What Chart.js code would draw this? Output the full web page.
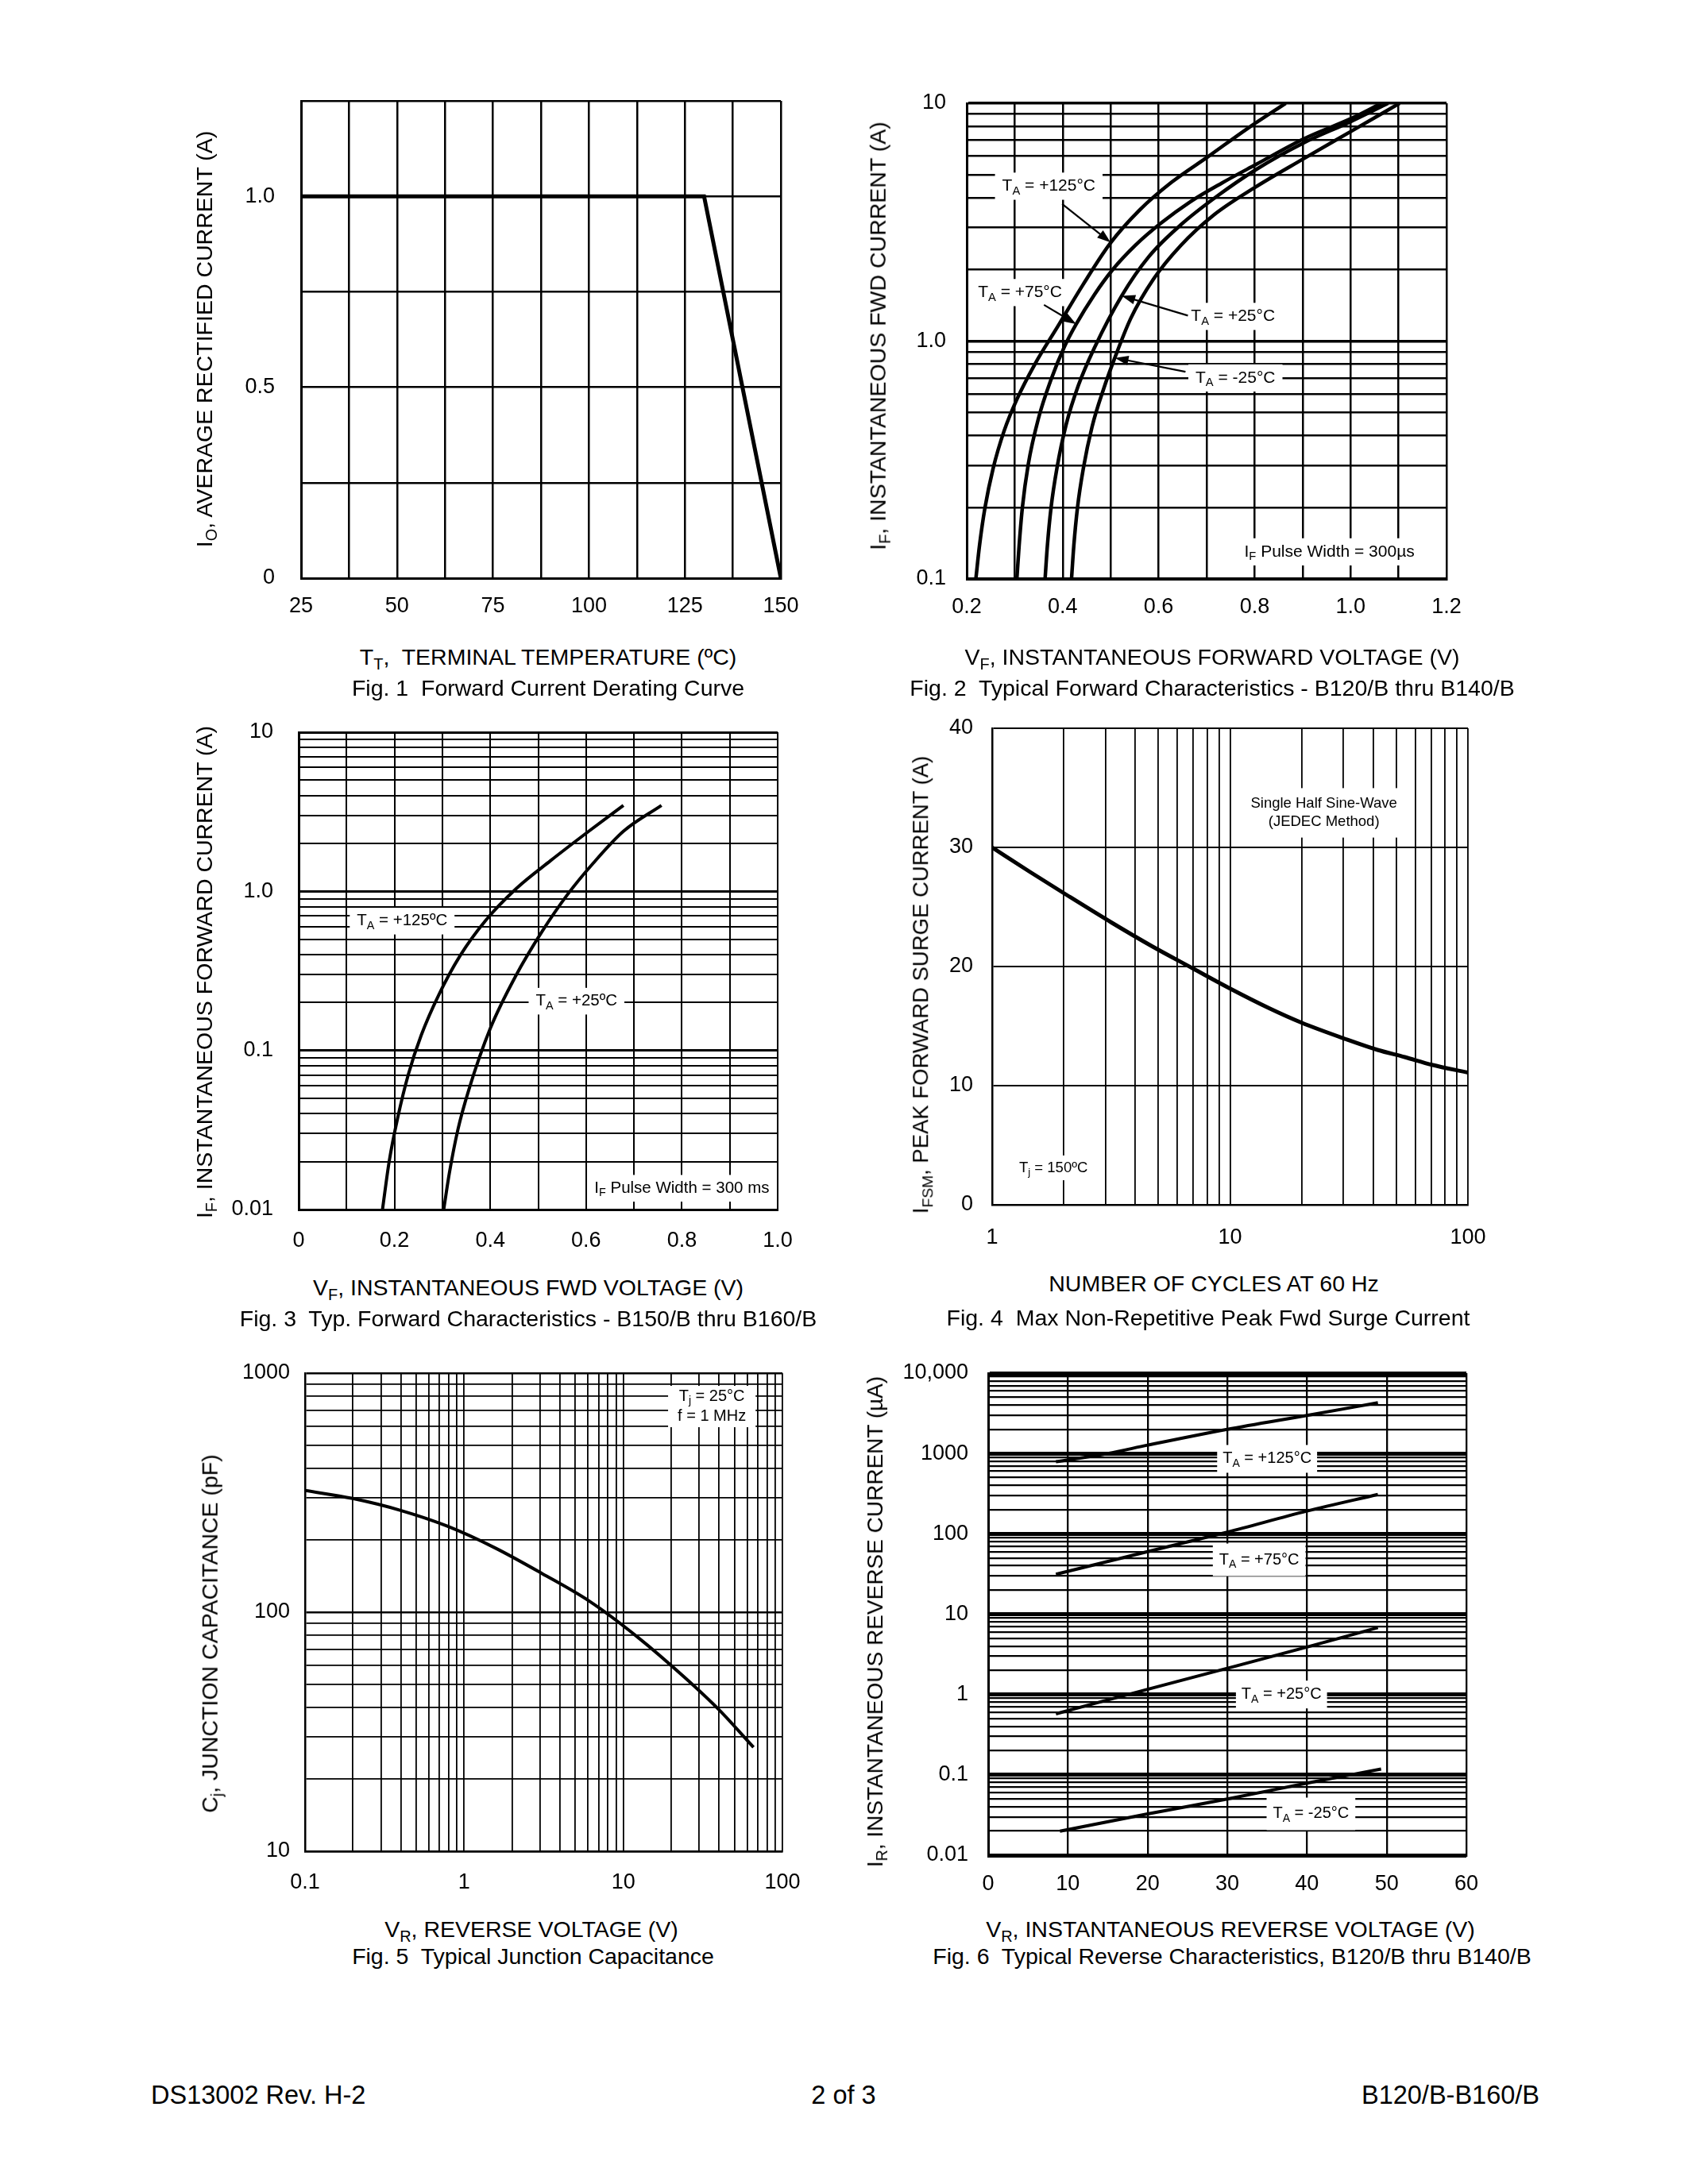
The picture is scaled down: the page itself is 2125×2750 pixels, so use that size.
<!DOCTYPE html>
<html>
<head>
<meta charset="utf-8">
<script src="https://cdn.jsdelivr.net/npm/chart.js@4.4.1/dist/chart.umd.min.js"></script>
<style>
html, body { margin: 0; padding: 0; background: #fff; }
#page { position: relative; width: 2125px; height: 2750px; overflow: hidden; font-family: "Liberation Sans", Arial, sans-serif; color: #000; }
canvas { position: absolute; }
.t { position: absolute; white-space: pre; font-size: 28.5px; line-height: 1; transform: translate(-50%, -50%); z-index: 2; }
.v { transform: translate(-50%, -50%) rotate(-90deg); }
sub { font-size: 70%; vertical-align: -0.32em; line-height: 0; }
.f { position: absolute; font-size: 32.5px; line-height: 1; white-space: nowrap; transform: translateY(-50%); }
</style>
</head>
<body>
<div id="page">
  <canvas id="c1"></canvas>
  <canvas id="c2"></canvas>
  <canvas id="c3"></canvas>
  <canvas id="c4"></canvas>
  <canvas id="c5"></canvas>
  <canvas id="c6"></canvas>

  <div class="t" style="left:690px;top:827px">T<sub>T</sub>,  TERMINAL TEMPERATURE (ºC)</div>
  <div class="t" style="left:690px;top:866px">Fig. 1  Forward Current Derating Curve</div>
  <div class="t v" style="left:257px;top:427px">I<sub>O</sub>, AVERAGE RECTIFIED CURRENT (A)</div>

  <div class="t" style="left:1526px;top:827px">V<sub>F</sub>, INSTANTANEOUS FORWARD VOLTAGE (V)</div>
  <div class="t" style="left:1526px;top:866px">Fig. 2  Typical Forward Characteristics - B120/B thru B140/B</div>
  <div class="t v" style="left:1105px;top:423px">I<sub>F</sub>, INSTANTANEOUS FWD CURRENT (A)</div>

  <div class="t" style="left:665px;top:1621px">V<sub>F</sub>, INSTANTANEOUS FWD VOLTAGE (V)</div>
  <div class="t" style="left:665px;top:1660px">Fig. 3  Typ. Forward Characteristics - B150/B thru B160/B</div>
  <div class="t v" style="left:257px;top:1224px">I<sub>F</sub>, INSTANTANEOUS FORWARD CURRENT (A)</div>

  <div class="t" style="left:1528px;top:1616px">NUMBER OF CYCLES AT 60 Hz</div>
  <div class="t" style="left:1521px;top:1659px">Fig. 4  Max Non-Repetitive Peak Fwd Surge Current</div>
  <div class="t v" style="left:1159px;top:1240px;font-size:27.5px">I<sub>FSM</sub>, PEAK FORWARD SURGE CURRENT (A)</div>

  <div class="t" style="left:669px;top:2429px">V<sub>R</sub>, REVERSE VOLTAGE (V)</div>
  <div class="t" style="left:671px;top:2463px">Fig. 5  Typical Junction Capacitance</div>
  <div class="t v" style="left:264px;top:2057px">C<sub>j</sub>, JUNCTION CAPACITANCE (pF)</div>

  <div class="t" style="left:1549px;top:2429px">V<sub>R</sub>, INSTANTANEOUS REVERSE VOLTAGE (V)</div>
  <div class="t" style="left:1551px;top:2463px">Fig. 6  Typical Reverse Characteristics, B120/B thru B140/B</div>
  <div class="t v" style="left:1102px;top:2042px;font-size:28px">I<sub>R</sub>, INSTANTANEOUS REVERSE CURRENT (µA)</div>

  <div class="f" style="left:190px;top:2638px">DS13002 Rev. H-2</div>
  <div class="f" style="left:1062px;top:2638px;transform:translate(-50%,-50%)">2 of 3</div>
  <div class="f" style="right:187px;top:2638px">B120/B-B160/B</div>
</div>

<script>
const FAM = "'Liberation Sans', Arial, sans-serif";

// log grid lines 1..9 per decade
function logGrid(e0, e1) {
  const out = [];
  for (let e = e0; e < e1; e++) {
    for (let m = 1; m < 10; m++) out.push(+(m * Math.pow(10, e)).toPrecision(3));
  }
  out.push(Math.pow(10, e1));
  return out;
}

// ---- Fig. 1 Forward Current Derating Curve
const fig1Temp = [25, 130, 150];
const fig1Current = [1.0, 1.0, 0];
const fig1XGrid = [25, 37.5, 50, 62.5, 75, 87.5, 100, 112.5, 125, 137.5, 150];
const fig1XTicks = [25, 50, 75, 100, 125, 150];
const fig1XText = ['25', '50', '75', '100', '125', '150'];
const fig1YGrid = [0, 0.25, 0.5, 0.75, 1.0, 1.25];
const fig1YTicks = [0, 0.5, 1.0];
const fig1YText = ['0', '0.5', '1.0'];

// ---- Fig. 2 Typical Forward Characteristics B120/B..B140/B
const fig2V125 = [0.219, 0.2266, 0.238, 0.2551, 0.2779, 0.3045, 0.3425, 0.3899, 0.4422, 0.4991, 0.5609, 0.6273, 0.7033, 0.784, 0.8648];
const fig2I125 = [0.1, 0.138, 0.199, 0.292, 0.419, 0.569, 0.803, 1.154, 1.725, 2.576, 3.565, 4.66, 5.97, 7.8, 10];
const fig2V75 = [0.3045, 0.3092, 0.3159, 0.3282, 0.3491, 0.3757, 0.4042, 0.4279, 0.4659, 0.5039, 0.5514, 0.6036, 0.6653, 0.7318, 0.803, 0.9028, 1.0025, 1.0642];
const fig2I75 = [0.1, 0.138, 0.199, 0.303, 0.47, 0.689, 0.953, 1.176, 1.566, 1.994, 2.527, 3.118, 3.846, 4.62, 5.53, 7.09, 8.65, 10];
const fig2V25 = [0.3633, 0.3681, 0.3757, 0.388, 0.407, 0.4327, 0.4659, 0.5229, 0.5799, 0.6463, 0.7223, 0.803, 0.9028, 0.9977, 1.0784];
const fig2I25 = [0.1, 0.138, 0.199, 0.292, 0.444, 0.651, 0.935, 1.549, 2.27, 3.083, 4.074, 5.263, 6.823, 8.325, 10];
const fig2Vm25 = [0.4184, 0.4232, 0.4308, 0.4431, 0.4612, 0.4849, 0.5086, 0.5419, 0.5894, 0.6463, 0.7128, 0.7983, 0.9028, 1.0025, 1.1022];
const fig2Im25 = [0.1, 0.138, 0.199, 0.292, 0.436, 0.626, 0.85, 1.246, 1.825, 2.527, 3.365, 4.397, 5.856, 7.65, 10];
const fig2XGrid = [0.2, 0.3, 0.4, 0.5, 0.6, 0.7, 0.8, 0.9, 1.0, 1.1, 1.2];
const fig2XTicks = [0.2, 0.4, 0.6, 0.8, 1.0, 1.2];
const fig2XText = ['0.2', '0.4', '0.6', '0.8', '1.0', '1.2'];
const fig2YTicks = [0.1, 1, 10];
const fig2YText = ['0.1', '1.0', '10'];

// ---- Fig. 3 Typ. Forward Characteristics B150/B..B160/B
const fig3V125 = [0.175, 0.189, 0.2067, 0.229, 0.256, 0.292, 0.337, 0.391, 0.454, 0.526, 0.606, 0.678];
const fig3I125 = [0.01, 0.0201, 0.0377, 0.0708, 0.125, 0.222, 0.394, 0.66, 1.04, 1.56, 2.39, 3.47];
const fig3V25 = [0.3028, 0.3145, 0.3324, 0.3549, 0.3998, 0.4537, 0.5076, 0.5615, 0.6155, 0.6783, 0.7574];
const fig3I25 = [0.01, 0.0169, 0.0318, 0.0562, 0.137, 0.296, 0.556, 0.957, 1.51, 2.39, 3.47];
const fig3XGrid = [0, 0.1, 0.2, 0.3, 0.4, 0.5, 0.6, 0.7, 0.8, 0.9, 1.0];
const fig3XTicks = [0, 0.2, 0.4, 0.6, 0.8, 1.0];
const fig3XText = ['0', '0.2', '0.4', '0.6', '0.8', '1.0'];
const fig3YTicks = [0.01, 0.1, 1, 10];
const fig3YText = ['0.01', '0.1', '1.0', '10'];

// ---- Fig. 4 Max Non-Repetitive Peak Fwd Surge Current
const fig4Cycles = [1, 1.44, 2.06, 3.17, 4.7, 6.96, 10, 14.6, 19.9, 30.7, 41.7, 54.2, 70.5, 100];
const fig4Surge = [30, 27.95, 26.0, 23.7, 21.7, 19.85, 18.15, 16.5, 15.3, 13.9, 13.0, 12.4, 11.75, 11.1];
const fig4YGrid = [0, 10, 20, 30, 40];
const fig4XTicks = [1, 10, 100];
const fig4XText = ['1', '10', '100'];
const fig4YTicks = [0, 10, 20, 30, 40];
const fig4YText = ['0', '10', '20', '30', '40'];

// ---- Fig. 5 Typical Junction Capacitance
const fig5Volts = [0.1, 0.199, 0.395, 0.784, 1.557, 3.094, 6.146, 12.21, 24.26, 39.96, 65.8];
const fig5Cap = [323, 299, 267, 229, 186, 145, 111, 79, 53.4, 39.05, 27.2];
const fig5XTicks = [0.1, 1, 10, 100];
const fig5XText = ['0.1', '1', '10', '100'];
const fig5YTicks = [10, 100, 1000];
const fig5YText = ['10', '100', '1000'];

// ---- Fig. 6 Typical Reverse Characteristics
const fig6V125 = [8.5, 15, 20, 30, 40, 48.9];
const fig6I125 = [790, 1000, 1270, 2000, 2980, 4280];
const fig6V75 = [8.5, 20, 30, 40, 48.9];
const fig6I75 = [31.4, 60, 105, 192, 309];
const fig6V25 = [8.5, 20, 30, 40, 48.9];
const fig6I25 = [0.575, 1.16, 2.12, 3.9, 6.8];
const fig6Vm25 = [9, 20, 30, 40, 49.3];
const fig6Im25 = [0.0199, 0.0327, 0.05, 0.079, 0.118];
const fig6XGrid = [0, 10, 20, 30, 40, 50, 60];
const fig6XTicks = [0, 10, 20, 30, 40, 50, 60];
const fig6XText = ['0', '10', '20', '30', '40', '50', '60'];
const fig6YTicks = [0.01, 0.1, 1, 10, 100, 1000, 10000];
const fig6YText = ['0.01', '0.1', '1', '10', '100', '1000', '10,000'];

// rich text: {..} is a subscript
function parts(str) {
  return str.split(/(\{[^}]*\})/).filter(p => p).map(p => p[0] === '{' ? [p.slice(1, -1), true] : [p, false]);
}
function richWidth(ctx, str, size) {
  let w = 0;
  parts(str).forEach(([s, sub]) => {
    ctx.font = (sub ? size * 0.7 : size) + 'px ' + FAM;
    w += ctx.measureText(s).width;
  });
  return w;
}
function drawRich(ctx, str, cx, cy, size) {
  let x = cx - richWidth(ctx, str, size) / 2;
  ctx.textAlign = 'left';
  ctx.textBaseline = 'middle';
  parts(str).forEach(([s, sub]) => {
    ctx.font = (sub ? size * 0.7 : size) + 'px ' + FAM;
    ctx.fillText(s, x, sub ? cy + size * 0.3 : cy);
    x += ctx.measureText(s).width;
  });
}

function notesPlugin(notes, size, arrows) {
  return {
    id: 'notes',
    beforeDatasetsDraw(chart) {
      const { ctx, scales: { x, y } } = chart;
      ctx.save();
      notes.forEach(n => {
        const cx = x.getPixelForValue(n.x), cy = y.getPixelForValue(n.y);
        const lh = size * 1.25;
        const w = Math.max(...n.lines.map(l => richWidth(ctx, l, size))) + 2 * (n.padX || 9);
        const h = n.lines.length * lh + 2 * (n.padY || 4);
        ctx.fillStyle = '#fff';
        ctx.fillRect(cx - w / 2, cy - h / 2, w, h);
        ctx.fillStyle = '#000';
        n.lines.forEach((l, i) => drawRich(ctx, l, cx, cy - (n.lines.length - 1) * lh / 2 + i * lh, size));
      });
      ctx.restore();
    },
    afterDatasetsDraw(chart) {
      const { ctx, scales: { x, y } } = chart;
      ctx.save();
      ctx.strokeStyle = '#000';
      ctx.fillStyle = '#000';
      ctx.lineWidth = 2.2;
      arrows.forEach(a => {
        const x1 = x.getPixelForValue(a[0]), y1 = y.getPixelForValue(a[1]);
        const x2 = x.getPixelForValue(a[2]), y2 = y.getPixelForValue(a[3]);
        const ang = Math.atan2(y2 - y1, x2 - x1), L = 17, W = 6;
        const c = Math.cos(ang), s = Math.sin(ang);
        ctx.beginPath();
        ctx.moveTo(x1, y1);
        ctx.lineTo(x2 - L * c * 0.8, y2 - L * s * 0.8);
        ctx.stroke();
        ctx.beginPath();
        ctx.moveTo(x2, y2);
        ctx.lineTo(x2 - L * c + W * s, y2 - L * s - W * c);
        ctx.lineTo(x2 - L * c - W * s, y2 - L * s + W * c);
        ctx.closePath();
        ctx.fill();
      });
      ctx.restore();
    }
  };
}

function isDecade(v) {
  if (!(v > 0)) return false;
  const l = Math.log10(v);
  return Math.abs(l - Math.round(l)) < 1e-6;
}

function makeChart(id, rect, o) {
  // room round the plot area; kept larger than the tick label padding chart.js reserves
  const padL = 130, padT = 70, padR = 80, padB = 70;
  const cv = document.getElementById(id);
  cv.width = rect.r - rect.l + padL + padR;
  cv.height = rect.b - rect.t + padT + padB;
  cv.style.left = (rect.l - padL) + 'px';
  cv.style.top = (rect.t - padT) + 'px';

  const labeler = (vals, texts) => v => {
    const i = vals.findIndex(t => Math.abs(t - v) <= Math.abs(t) * 1e-6 + 1e-9);
    return i < 0 ? '' : texts[i];
  };
  const axis = (a, side) => ({
    type: a.type,
    min: a.min,
    max: a.max,
    afterBuildTicks: s => { s.ticks = a.grid.map(v => ({ value: v })); },
    afterFit: s => { if (side === 'x') s.height = padB; else s.width = padL; },
    ticks: {
      autoSkip: false, maxRotation: 0, minRotation: 0,
      padding: a.pad, color: '#000',
      font: { family: FAM, size: 27 },
      callback: labeler(a.vals, a.texts)
    },
    grid: {
      color: '#000', drawTicks: false,
      lineWidth: c => (a.major && c.tick && isDecade(c.tick.value)) ? a.major : a.lw
    },
    border: { color: '#000', width: a.bw || 3 }
  });

  return new Chart(cv, {
    type: 'line',
    data: {
      datasets: o.series.map(s => ({
        data: s.xs.map((x, i) => ({ x: x, y: s.ys[i] })),
        borderColor: '#000',
        borderWidth: o.curveW,
        pointRadius: 0,
        fill: false,
        tension: o.smooth ? 0.4 : 0,
        cubicInterpolationMode: o.smooth ? 'monotone' : 'default'
      }))
    },
    options: {
      responsive: false,
      animation: false,
      devicePixelRatio: 1,
      layout: { padding: { left: 0, top: padT, right: padR, bottom: 0 } },
      plugins: { legend: { display: false }, tooltip: { enabled: false } },
      scales: { x: axis(o.x, 'x'), y: axis(o.y, 'y') }
    },
    plugins: [notesPlugin(o.notes || [], o.noteSize || 20, o.arrows || [])]
  });
}

makeChart('c1', { l: 379, t: 127, r: 983, b: 728 }, {
  x: { type: 'linear', min: 25, max: 150, grid: fig1XGrid, vals: fig1XTicks, texts: fig1XText, pad: 19, lw: 2.5 },
  y: { type: 'linear', min: 0, max: 1.25, grid: fig1YGrid, vals: fig1YTicks, texts: fig1YText, pad: 33, lw: 2.5 },
  series: [{ xs: fig1Temp, ys: fig1Current }],
  curveW: 5, smooth: false
});

makeChart('c2', { l: 1217, t: 130, r: 1821, b: 729 }, {
  x: { type: 'linear', min: 0.2, max: 1.2, grid: fig2XGrid, vals: fig2XTicks, texts: fig2XText, pad: 19, lw: 2.5 },
  y: { type: 'logarithmic', min: 0.1, max: 10, grid: logGrid(-1, 1), vals: fig2YTicks, texts: fig2YText, pad: 26, lw: 2.5, major: 3.5 },
  series: [
    { xs: fig2V125, ys: fig2I125 },
    { xs: fig2V75, ys: fig2I75 },
    { xs: fig2V25, ys: fig2I25 },
    { xs: fig2Vm25, ys: fig2Im25 }
  ],
  curveW: 4.5, smooth: true, noteSize: 21,
  notes: [
    { x: 0.371, y: 4.48, lines: ['T{A} = +125°C'] },
    { x: 0.311, y: 1.6, lines: ['T{A} = +75°C'] },
    { x: 0.755, y: 1.27, lines: ['T{A} = +25°C'] },
    { x: 0.76, y: 0.70, lines: ['T{A} = -25°C'] },
    { x: 0.956, y: 0.13, lines: ['I{F} Pulse Width = 300µs'] }
  ],
  arrows: [
    [0.399, 3.77, 0.5, 2.6],
    [0.361, 1.42, 0.428, 1.18],
    [0.661, 1.28, 0.523, 1.55],
    [0.656, 0.743, 0.509, 0.85]
  ]
});

makeChart('c3', { l: 376, t: 922, r: 979, b: 1523 }, {
  x: { type: 'linear', min: 0, max: 1.0, grid: fig3XGrid, vals: fig3XTicks, texts: fig3XText, pad: 23, lw: 2 },
  y: { type: 'logarithmic', min: 0.01, max: 10, grid: logGrid(-2, 1), vals: fig3YTicks, texts: fig3YText, pad: 32, lw: 2, major: 3 },
  series: [
    { xs: fig3V125, ys: fig3I125 },
    { xs: fig3V25, ys: fig3I25 }
  ],
  curveW: 4, smooth: true, noteSize: 20.5,
  notes: [
    { x: 0.216, y: 0.65, lines: ['T{A} = +125ºC'] },
    { x: 0.58, y: 0.204, lines: ['T{A} = +25ºC'] },
    { x: 0.8, y: 0.0136, lines: ['I{F} Pulse Width = 300 ms'] }
  ]
});

makeChart('c4', { l: 1249, t: 917, r: 1848, b: 1517 }, {
  x: { type: 'logarithmic', min: 1, max: 100, grid: logGrid(0, 2), vals: fig4XTicks, texts: fig4XText, pad: 25, lw: 1.8, bw: 2.5 },
  y: { type: 'linear', min: 0, max: 40, grid: fig4YGrid, vals: fig4YTicks, texts: fig4YText, pad: 24, lw: 2, bw: 2.5 },
  series: [{ xs: fig4Cycles, ys: fig4Surge }],
  curveW: 5, smooth: true, noteSize: 18.5,
  notes: [
    { x: 24.8, y: 32.9, lines: ['Single Half Sine-Wave', '(JEDEC Method)'], padX: 8, padY: 8 },
    { x: 1.81, y: 3.1, lines: ['T{j} = 150ºC'] }
  ]
});

makeChart('c5', { l: 384, t: 1729, r: 985, b: 2331 }, {
  x: { type: 'logarithmic', min: 0.1, max: 100, grid: logGrid(-1, 2), vals: fig5XTicks, texts: fig5XText, pad: 23, lw: 1.8, bw: 2.5 },
  y: { type: 'logarithmic', min: 10, max: 1000, grid: logGrid(1, 3), vals: fig5YTicks, texts: fig5YText, pad: 19, lw: 1.8, major: 2.6, bw: 2.5 },
  series: [{ xs: fig5Volts, ys: fig5Cap }],
  curveW: 4, smooth: true, noteSize: 20,
  notes: [
    { x: 36, y: 725, lines: ['T{j} = 25°C', 'f = 1 MHz'], padX: 12, padY: 1 }
  ]
});

makeChart('c6', { l: 1244, t: 1729, r: 1846, b: 2336 }, {
  x: { type: 'linear', min: 0, max: 60, grid: fig6XGrid, vals: fig6XTicks, texts: fig6XText, pad: 20, lw: 2.3 },
  y: { type: 'logarithmic', min: 0.01, max: 10000, grid: logGrid(-2, 4), vals: fig6YTicks, texts: fig6YText, pad: 25, lw: 2.3, major: 5 },
  series: [
    { xs: fig6V125, ys: fig6I125 },
    { xs: fig6V75, ys: fig6I75 },
    { xs: fig6V25, ys: fig6I25 },
    { xs: fig6Vm25, ys: fig6Im25 }
  ],
  curveW: 4, smooth: true, noteSize: 20,
  notes: [
    { x: 35.0, y: 857, lines: ['T{A} = +125°C'], padX: 7, padY: 5 },
    { x: 34.0, y: 47.5, lines: ['T{A} = +75°C'], padX: 8, padY: 8 },
    { x: 36.8, y: 1.0, lines: ['T{A} = +25°C'], padX: 7, padY: 5 },
    { x: 40.5, y: 0.0327, lines: ['T{A} = -25°C'], padX: 8, padY: 8 }
  ]
});
</script>
</body>
</html>
